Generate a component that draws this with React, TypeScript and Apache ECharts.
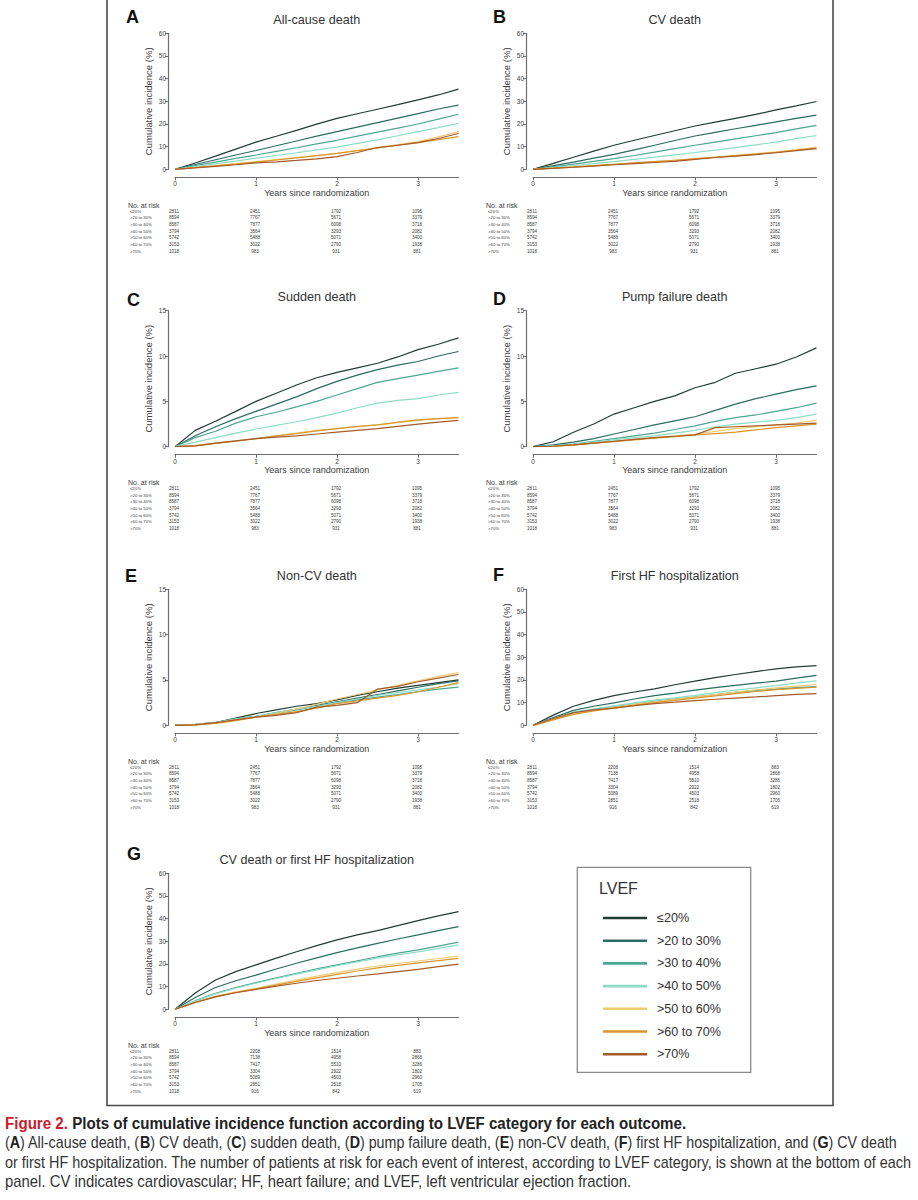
import React, { useEffect, useRef } from "react";
import * as echarts from "echarts";

// ---------- data ----------
const years = [0, 0.25, 0.5, 0.75, 1, 1.25, 1.5, 1.75, 2, 2.25, 2.5, 2.75, 3, 3.25, 3.5];
const groups = ["≤20%", ">20 to 30%", ">30 to 40%", ">40 to 50%", ">50 to 60%", ">60 to 70%", ">70%"];
const colors = ["#223d36", "#2c6b60", "#4ea692", "#8fdcc6", "#f0cb76", "#d8952f", "#a65a29"];

const allCauseDeath = [
  [0, 2.8, 5.8, 8.9, 12.0, 14.6, 17.2, 19.9, 22.5, 24.5, 26.5, 28.5, 30.6, 32.8, 35.4],
  [0, 2.1, 4.2, 6.3, 8.3, 10.4, 12.5, 14.6, 16.6, 18.6, 20.6, 22.6, 24.6, 26.6, 28.3],
  [0, 1.6, 3.2, 4.8, 6.3, 7.9, 9.5, 11.2, 12.8, 14.6, 16.4, 18.2, 20.0, 22.1, 24.3],
  [0, 1.2, 2.4, 3.6, 4.9, 6.1, 7.3, 8.6, 9.8, 11.4, 13.0, 14.8, 16.6, 18.4, 20.3],
  [0, 0.8, 1.6, 2.5, 3.4, 4.3, 5.2, 6.1, 7.0, 8.3, 9.6, 10.9, 12.2, 14.3, 16.6],
  [0, 0.8, 1.5, 2.3, 3.2, 4.1, 5.0, 6.0, 7.0, 8.2, 9.4, 10.6, 11.8, 13.1, 14.4],
  [0, 0.6, 1.3, 2.0, 2.8, 3.3, 3.9, 4.6, 5.6, 7.4, 9.6, 10.6, 11.8, 13.6, 15.8],
];
const cvDeath = [
  [0, 2.6, 5.3, 8.0, 10.6, 12.8, 14.9, 17.0, 19.1, 20.8, 22.5, 24.2, 26.2, 28.0, 29.9],
  [0, 1.6, 3.2, 4.9, 6.6, 8.6, 10.6, 12.7, 14.7, 16.3, 17.9, 19.4, 20.9, 22.5, 23.9],
  [0, 1.1, 2.3, 3.5, 4.7, 6.1, 7.6, 9.1, 10.6, 12.0, 13.4, 14.8, 16.2, 17.8, 19.4],
  [0, 0.8, 1.6, 2.5, 3.4, 4.4, 5.4, 6.4, 7.4, 8.5, 9.6, 10.8, 12.0, 13.5, 14.9],
  [0, 0.5, 1.1, 1.6, 2.2, 2.8, 3.4, 4.0, 4.7, 5.4, 6.1, 6.9, 7.7, 8.7, 9.8],
  [0, 0.5, 1.0, 1.6, 2.2, 2.8, 3.4, 4.0, 4.6, 5.3, 6.0, 6.7, 7.5, 8.4, 9.4],
  [0, 0.4, 0.9, 1.4, 2.0, 2.5, 3.0, 3.5, 4.4, 5.2, 5.8, 6.5, 7.3, 8.2, 9.1],
];
const suddenDeath = [
  [0, 1.8, 2.8, 3.9, 5.0, 5.9, 6.8, 7.6, 8.2, 8.7, 9.2, 9.9, 10.7, 11.3, 12.0],
  [0, 1.2, 2.2, 3.1, 3.9, 4.7, 5.5, 6.4, 7.2, 7.9, 8.5, 9.0, 9.4, 10.0, 10.5],
  [0, 1.0, 1.7, 2.6, 3.3, 3.8, 4.4, 5.0, 5.7, 6.4, 7.1, 7.5, 7.9, 8.3, 8.7],
  [0, 0.5, 1.0, 1.5, 1.95, 2.35, 2.75, 3.2, 3.7, 4.3, 4.8, 5.1, 5.3, 5.7, 6.0],
  [0, 0.15, 0.4, 0.65, 0.9, 1.2, 1.5, 1.8, 2.0, 2.2, 2.4, 2.65, 2.9, 3.1, 3.2],
  [0, 0.1, 0.35, 0.6, 0.9, 1.2, 1.45, 1.75, 2.0, 2.25, 2.4, 2.7, 2.95, 3.1, 3.2],
  [0, 0.1, 0.4, 0.65, 0.9, 1.05, 1.2, 1.4, 1.6, 1.8, 2.0, 2.25, 2.5, 2.7, 2.9],
];
const pumpFailureDeath = [
  [0, 0.55, 1.6, 2.5, 3.6, 4.3, 5.0, 5.6, 6.5, 7.1, 8.1, 8.6, 9.1, 9.9, 10.9],
  [0, 0.2, 0.5, 0.9, 1.4, 1.9, 2.4, 2.85, 3.3, 4.0, 4.7, 5.3, 5.8, 6.3, 6.7],
  [0, 0.1, 0.3, 0.6, 0.9, 1.2, 1.5, 1.9, 2.3, 2.8, 3.2, 3.5, 3.9, 4.3, 4.8],
  [0, 0.1, 0.25, 0.5, 0.75, 1.0, 1.2, 1.5, 1.8, 2.2, 2.5, 2.7, 2.9, 3.2, 3.6],
  [0, 0.05, 0.2, 0.4, 0.6, 0.8, 1.0, 1.2, 1.4, 1.7, 2.0, 2.2, 2.4, 2.6, 2.9],
  [0, 0.05, 0.2, 0.4, 0.55, 0.75, 0.95, 1.1, 1.3, 1.45, 1.6, 1.85, 2.1, 2.3, 2.5],
  [0, 0.05, 0.2, 0.4, 0.6, 0.8, 1.0, 1.15, 1.3, 2.1, 2.2, 2.3, 2.4, 2.5, 2.6],
];
const nonCvDeath = [
  [0, 0.1, 0.3, 0.8, 1.3, 1.7, 2.1, 2.4, 2.8, 3.3, 3.7, 4.1, 4.4, 4.7, 5.0],
  [0, 0.1, 0.3, 0.7, 1.0, 1.4, 1.8, 2.2, 2.6, 3.0, 3.4, 3.8, 4.2, 4.6, 4.9],
  [0, 0.1, 0.3, 0.6, 1.0, 1.3, 1.7, 2.1, 2.5, 2.8, 3.1, 3.4, 3.7, 4.0, 4.2],
  [0, 0.1, 0.3, 0.7, 1.0, 1.4, 1.8, 2.1, 2.5, 2.9, 3.3, 3.6, 3.9, 4.2, 4.6],
  [0, 0.1, 0.3, 0.6, 0.9, 1.3, 1.8, 2.3, 2.9, 3.4, 3.9, 4.4, 4.9, 5.4, 5.8],
  [0, 0.05, 0.2, 0.5, 0.9, 1.2, 1.5, 1.9, 2.4, 2.7, 3.0, 3.3, 3.7, 4.2, 4.7],
  [0, 0.05, 0.3, 0.6, 0.9, 1.1, 1.4, 2.0, 2.2, 2.5, 4.0, 4.3, 4.8, 5.2, 5.6],
];
const firstHfHosp = [
  [0, 4.5, 8.4, 11.0, 13.1, 14.7, 16.1, 17.9, 19.5, 21.0, 22.4, 23.7, 24.9, 25.8, 26.3],
  [0, 3.4, 6.6, 8.4, 9.9, 11.6, 13.1, 14.2, 15.5, 16.6, 17.6, 18.6, 19.5, 20.8, 22.0],
  [0, 2.9, 5.6, 7.0, 8.2, 9.4, 10.6, 11.6, 12.5, 13.6, 14.5, 15.3, 16.0, 16.6, 17.1],
  [0, 3.0, 5.8, 7.3, 8.6, 9.9, 11.1, 12.1, 13.2, 14.4, 15.5, 16.5, 17.5, 18.6, 19.6],
  [0, 2.5, 5.0, 6.6, 7.9, 9.2, 10.4, 11.4, 12.4, 13.5, 14.6, 15.6, 16.5, 17.3, 18.0],
  [0, 2.4, 4.8, 6.3, 7.6, 8.8, 10.0, 11.0, 12.0, 13.0, 14.0, 14.9, 15.7, 16.3, 16.8],
  [0, 3.0, 5.6, 6.8, 7.6, 8.7, 9.6, 10.2, 10.9, 11.5, 12.0, 12.5, 13.1, 13.6, 14.0],
];
const cvDeathOrHfHosp = [
  [0, 7.2, 12.9, 16.6, 19.6, 22.6, 25.4, 28.1, 30.6, 32.8, 34.7, 36.9, 39.1, 41.2, 43.1],
  [0, 5.2, 9.6, 12.6, 15.1, 17.8, 20.3, 22.7, 25.0, 27.1, 29.1, 31.0, 32.8, 34.7, 36.5],
  [0, 3.8, 7.1, 9.6, 11.8, 13.9, 15.9, 17.8, 19.6, 21.4, 23.2, 24.8, 26.2, 27.9, 29.6],
  [0, 3.6, 6.8, 9.3, 11.5, 13.6, 15.5, 17.4, 19.2, 20.9, 22.6, 24.0, 25.3, 26.9, 28.4],
  [0, 3.1, 5.8, 7.7, 9.3, 11.1, 12.9, 14.6, 16.2, 17.7, 19.1, 20.2, 21.3, 22.4, 23.5],
  [0, 3.0, 5.6, 7.4, 9.0, 10.7, 12.3, 13.9, 15.4, 16.9, 18.3, 19.4, 20.5, 21.5, 22.5],
  [0, 3.0, 5.5, 7.3, 8.8, 10.2, 11.5, 12.7, 13.7, 14.7, 15.6, 16.6, 17.6, 18.8, 19.9],
];

const riskTimes = [0, 1, 2, 3];
const riskDeath = [
  ["2811", "2451", "1792", "1095"],
  ["8594", "7767", "5671", "3379"],
  ["8587", "7877", "6098", "3718"],
  ["3794", "3564", "3293", "2082"],
  ["5742", "5488", "5071", "3400"],
  ["3153", "3022", "2790", "1938"],
  ["1018", "983", "931", "881"],
];
const riskHf = [
  ["2811", "2208", "1514", "883"],
  ["8594", "7138", "4958", "2868"],
  ["8587", "7417", "5510", "3286"],
  ["3794", "3304", "2922", "1802"],
  ["5742", "5089", "4503", "2960"],
  ["3153", "2851", "2518", "1705"],
  ["1018", "916", "842", "619"],
];

const panels = [
  { letter: "A", title: "All-cause death", data: allCauseDeath, ymax: 60, col: 0, row: 0, risk: riskDeath, lx: 126, ly: 17 },
  { letter: "B", title: "CV death", data: cvDeath, ymax: 60, col: 1, row: 0, risk: riskDeath, lx: 493, ly: 17 },
  { letter: "C", title: "Sudden death", data: suddenDeath, ymax: 15, col: 0, row: 1, risk: riskDeath, lx: 127, ly: 300 },
  { letter: "D", title: "Pump failure death", data: pumpFailureDeath, ymax: 15, col: 1, row: 1, risk: riskDeath, lx: 493, ly: 299 },
  { letter: "E", title: "Non-CV death", data: nonCvDeath, ymax: 15, col: 0, row: 2, risk: riskDeath, lx: 125, ly: 576 },
  { letter: "F", title: "First HF hospitalization", data: firstHfHosp, ymax: 60, col: 1, row: 2, risk: riskHf, lx: 493, ly: 575 },
  { letter: "G", title: "CV death or first HF hospitalization", data: cvDeathOrHfHosp, ymax: 60, col: 0, row: 3, risk: riskHf, lx: 127, ly: 854 },
];

const captionLines = [
  "{r|Figure 2.} {b|Plots of cumulative incidence function according to LVEF category for each outcome.}",
  "{n|(}{b|A}{n|) All-cause death, (}{b|B}{n|) CV death, (}{b|C}{n|) sudden death, (}{b|D}{n|) pump failure death, (}{b|E}{n|) non-CV death, (}{b|F}{n|) first HF hospitalization, and (}{b|G}{n|) CV death}",
  "{n|or first HF hospitalization. The number of patients at risk for each event of interest, according to LVEF category, is shown at the bottom of each}",
  "{n|panel. CV indicates cardiovascular; HF, heart failure; and LVEF, left ventricular ejection fraction.}",
];

// ---------- layout ----------
const COL_LEFT = [175, 533];
const ROW_TOP = [33.3, 310.7, 589.3, 873.3];
const GW = 283.5;
const GH = 136;
const XMAX = 3.5;
const FONT = "'Liberation Sans', Arial, Helvetica, sans-serif";
const CAP_FONT = "'Liberation Sans', Arial, sans-serif";
const CAP_SIZE = 16;
const AXIS_COLOR = "#6e6e6e";
const TEXT_COLOR = "#3c3c3c";

function buildOption() {
  const grid: any[] = [];
  const xAxis: any[] = [];
  const yAxis: any[] = [];
  const series: any[] = [];
  const graphic: any[] = [];

  panels.forEach((p, pi) => {
    const left = COL_LEFT[p.col];
    const top = ROW_TOP[p.row];
    grid.push({ left, top, width: GW, height: GH });
    xAxis.push({
      gridIndex: pi,
      type: "value",
      min: 0,
      max: XMAX,
      offset: 8,
      axisLine: { show: true, onZero: false, lineStyle: { color: AXIS_COLOR, width: 1.2 } },
      axisTick: { show: true, length: 3, customValues: riskTimes, lineStyle: { color: AXIS_COLOR } },
      axisLabel: { customValues: riskTimes, fontSize: 6.5, color: TEXT_COLOR, margin: 3, fontFamily: FONT },
      splitLine: { show: false },
      name: "Years since randomization",
      nameLocation: "middle",
      nameGap: 10,
      nameTextStyle: { fontSize: 9, color: TEXT_COLOR, fontFamily: FONT },
    });
    yAxis.push({
      gridIndex: pi,
      type: "value",
      min: 0,
      max: p.ymax,
      interval: p.ymax === 60 ? 10 : 5,
      offset: 7,
      axisLine: { show: true, onZero: false, lineStyle: { color: AXIS_COLOR, width: 1.2 } },
      axisTick: { show: true, length: 3, lineStyle: { color: AXIS_COLOR } },
      axisLabel: { fontSize: 6.5, color: TEXT_COLOR, margin: 2, fontFamily: FONT },
      splitLine: { show: false },
      name: "Cumulative incidence (%)",
      nameLocation: "middle",
      nameGap: 15,
      nameTextStyle: { fontSize: 9.5, color: TEXT_COLOR, fontFamily: FONT },
    });
    p.data.forEach((vals, gi) => {
      series.push({
        type: "line",
        name: groups[gi],
        xAxisIndex: pi,
        yAxisIndex: pi,
        data: years.map((t, i) => [t, vals[i]]),
        showSymbol: false,
        symbol: "none",
        lineStyle: { width: 1.2, color: colors[gi] },
        itemStyle: { color: colors[gi] },
        silent: true,
      });
    });

    // panel letter & title
    graphic.push({
      type: "text",
      x: p.lx,
      y: p.ly,
      style: { text: p.letter, font: `bold 18px ${FONT}`, fill: "#111", align: "left", verticalAlign: "middle" },
    });
    graphic.push({
      type: "text",
      x: left + GW / 2,
      y: top - 13.5,
      style: { text: p.title, font: `12.6px ${FONT}`, fill: "#333", align: "center", verticalAlign: "middle" },
    });

    // number at risk table
    graphic.push({
      type: "text",
      x: left - 47,
      y: top + 171.7,
      style: { text: "No. at risk", font: `7px ${FONT}`, fill: TEXT_COLOR, align: "left", verticalAlign: "middle" },
    });
    p.risk.forEach((row, ri) => {
      const y = top + 177.7 + ri * 6.67;
      graphic.push({
        type: "text",
        x: left - 45,
        y,
        style: { text: groups[ri], font: `4.3px ${FONT}`, fill: TEXT_COLOR, align: "left", verticalAlign: "middle" },
      });
      row.forEach((v, ci) => {
        graphic.push({
          type: "text",
          x: left + (riskTimes[ci] / XMAX) * GW - 1,
          y,
          style: { text: v, font: `4.6px ${FONT}`, fill: TEXT_COLOR, align: "center", verticalAlign: "middle" },
        });
      });
    });
  });

  // outer frame
  graphic.push({
    type: "polyline",
    shape: { points: [[107, 0], [107, 1105.5], [833, 1105.5], [833, 0]] },
    style: { stroke: "#4a4a4a", lineWidth: 1.6, fill: null },
  });

  // legend box
  graphic.push({
    type: "rect",
    shape: { x: 577.3, y: 867.3, width: 173.4, height: 205 },
    style: { stroke: "#8a8a8a", lineWidth: 1.3, fill: "#fff" },
    z: -1,
  });
  graphic.push({
    type: "text",
    x: 599,
    y: 888,
    style: { text: "LVEF", font: `16px ${FONT}`, fill: "#333", align: "left", verticalAlign: "middle" },
  });

  // caption (condensed look via horizontal scale)
  const capY = [1123, 1142.5, 1162, 1181.5];
  const capRich = {
    r: { fill: "#c8202f", fontWeight: "bold", fontSize: CAP_SIZE, fontFamily: CAP_FONT },
    b: { fill: "#222", fontWeight: "bold", fontSize: CAP_SIZE, fontFamily: CAP_FONT },
    n: { fill: "#333", fontSize: CAP_SIZE, fontFamily: CAP_FONT },
  };
  const capScale = [0.945, 0.893, 0.9, 0.93];
  captionLines.forEach((line, i) => {
    graphic.push({
      type: "text",
      x: 5,
      y: capY[i],
      scaleX: capScale[i],
      style: {
        text: line,
        font: `${CAP_SIZE}px ${CAP_FONT}`,
        align: "left",
        verticalAlign: "middle",
        rich: capRich,
      },
    });
  });

  return {
    animation: false,
    backgroundColor: "#fff",
    textStyle: { fontFamily: FONT },
    grid,
    xAxis,
    yAxis,
    series,
    legend: {
      data: groups,
      orient: "vertical",
      left: 598,
      top: 906.5,
      icon: "rect",
      itemWidth: 44,
      itemHeight: 2.6,
      itemGap: 9.7,
      selectedMode: false,
      textStyle: { fontSize: 12.6, color: "#333", fontFamily: FONT, padding: [0, 0, 0, 5] },
    },
    graphic,
  };
}

export default function App() {
  const ref = useRef<HTMLDivElement>(null);
  useEffect(() => {
    if (!ref.current) return;
    const chart = echarts.init(ref.current, undefined, { renderer: "svg" });
    chart.setOption(buildOption() as any);
    return () => chart.dispose();
  }, []);
  return (
    <div
      ref={ref}
      style={{ position: "absolute", left: 0, top: 0, width: 918, height: 1200, background: "#fff" }}
    />
  );
}
